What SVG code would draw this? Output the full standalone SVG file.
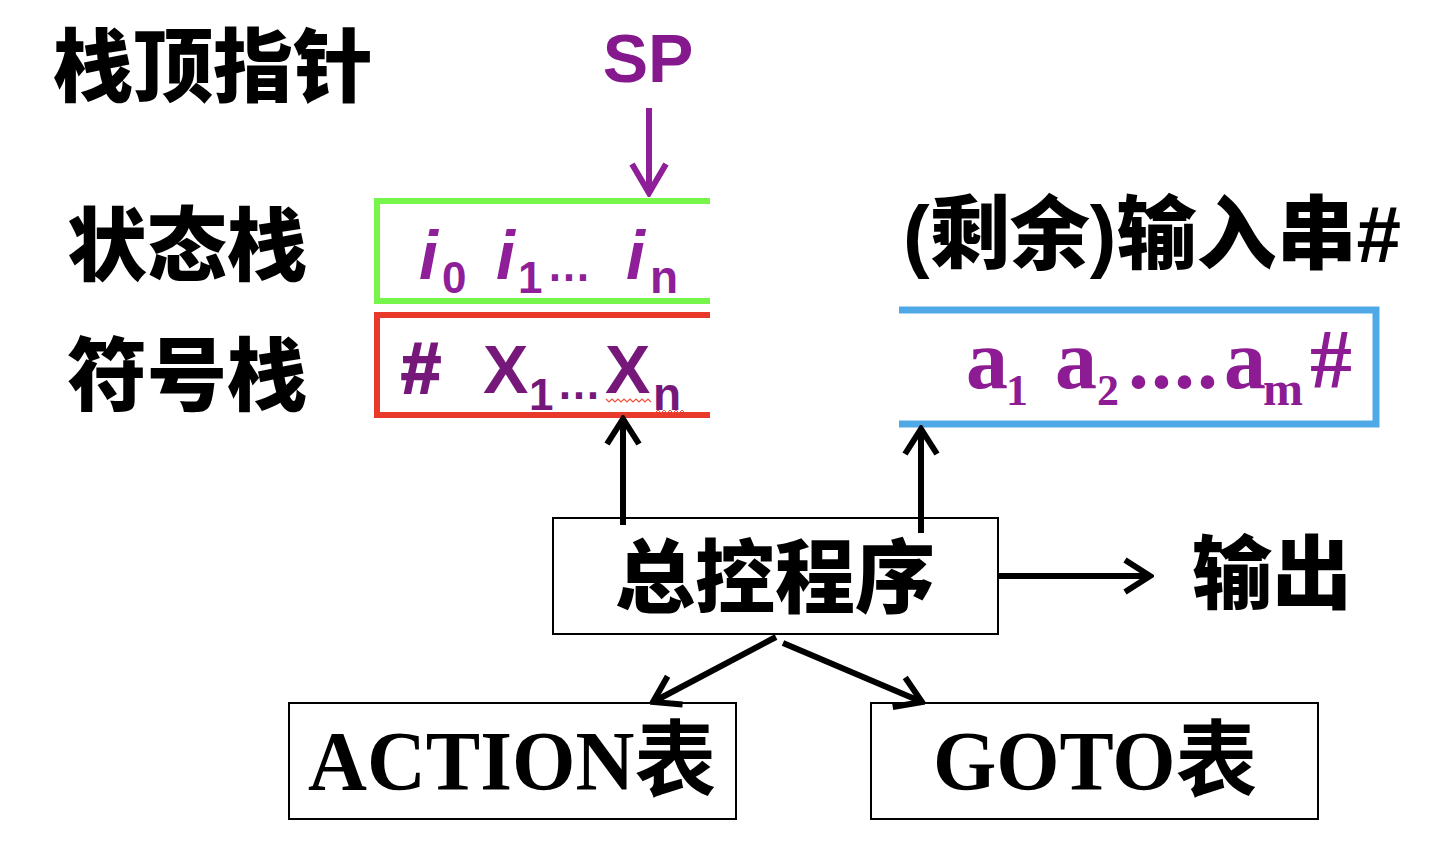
<svg xmlns="http://www.w3.org/2000/svg" width="1444" height="854" viewBox="0 0 1444 854">
<style>
.cjk{font-family:"Liberation Sans","Noto Sans CJK SC",sans-serif;font-weight:900;fill:#000;font-size:80px}
.sans{font-family:"Liberation Sans",Arial,sans-serif;font-weight:bold}
.serif{font-family:"Liberation Serif","Noto Sans CJK SC",serif;font-weight:bold}
.box{fill:#fff;stroke:#000;stroke-width:2}
.conn{stroke:#000;stroke-width:6;fill:none}
.pi{fill:#8E1F98}
.px{fill:#76187A}
.pa{fill:#8D1B93}
</style>
<defs>
<marker id="ah" markerUnits="userSpaceOnUse" viewBox="0 0 32 38" refX="28" refY="19" markerWidth="32" markerHeight="38" orient="auto">
<path d="M3,3 L28,19 L3,35" fill="none" stroke="#000" stroke-width="6" stroke-linejoin="miter"/>
</marker>
<marker id="ahp" markerUnits="userSpaceOnUse" viewBox="0 0 36 40" refX="32" refY="20" markerWidth="36" markerHeight="40" orient="auto">
<path d="M3,3 L32,20 L3,37" fill="none" stroke="#8E1F98" stroke-width="6" stroke-linejoin="miter"/>
</marker>
</defs>
<rect width="1444" height="854" fill="#fff"/>

<g id="labels">
<text class="cjk" x="213" y="95" text-anchor="middle">栈顶指针</text>
<text class="cjk" x="187" y="274" text-anchor="middle">状态栈</text>
<text class="cjk" x="187" y="404" text-anchor="middle">符号栈</text>
<text class="cjk" x="1152" y="262" text-anchor="middle">(剩余)输入串#</text>
<text class="sans" x="648" y="82" text-anchor="middle" font-size="68" fill="#84188C">SP</text>
</g>

<g id="state-stack">
<path d="M710,201 H377 V301 H710" fill="none" stroke="#77F54A" stroke-width="6"/>
<text class="sans pi"><tspan x="419" y="279" font-size="68" font-style="italic">i</tspan><tspan x="442" y="293" font-size="44">0</tspan><tspan x="496" y="279" font-size="68" font-style="italic">i</tspan><tspan x="518" y="293" font-size="44">1</tspan><tspan x="547" y="281" font-size="44">…</tspan><tspan x="626" y="279" font-size="68" font-style="italic">i</tspan><tspan x="650" y="293" font-size="46">n</tspan></text>
</g>

<g id="symbol-stack">
<path d="M710,315 H377 V415 H710" fill="none" stroke="#E8392A" stroke-width="6"/>
<text class="sans px"><tspan x="401" y="393" font-size="72" stroke="#76187A" stroke-width="2">#</tspan><tspan x="483" y="393" font-size="68">X</tspan><tspan x="529" y="410" font-size="44">1</tspan><tspan x="557" y="399" font-size="44">…</tspan><tspan x="605" y="393" font-size="68">X</tspan><tspan x="653" y="410" font-size="46">n</tspan></text>
<path d="M606,399 l3,3 l3,-3 l3,3 l3,-3 l3,3 l3,-3 l3,3 l3,-3 l3,3 l3,-3 l3,3 l3,-3 l3,3 l3,-3 l3,3" fill="none" stroke="#F0503C" stroke-width="1.2"/>
<path d="M655,413 l3,-3 l3,3 l3,-3 l3,3 l3,-3 l3,3 l3,-3 l3,3 l3,-3 l2,2" fill="none" stroke="#F0503C" stroke-width="1"/>
</g>

<g id="input-string">
<path d="M899,310 H1376 V424 H899" fill="none" stroke="#4FA9E6" stroke-width="7"/>
<text class="serif pa"><tspan x="966" y="388" font-size="84">a</tspan><tspan x="1006" y="405" font-size="44">1</tspan><tspan x="1055" y="388" font-size="84">a</tspan><tspan x="1097" y="405" font-size="44">2</tspan><tspan x="1128" y="388" font-size="84" letter-spacing="2">....</tspan><tspan x="1224" y="388" font-size="84">a</tspan><tspan x="1263" y="405" font-size="48">m</tspan><tspan x="1310" y="388" font-size="84">#</tspan></text>
</g>

<g id="control">
<rect class="box" x="553" y="518" width="445" height="116"/>
<text class="cjk" x="775" y="606" text-anchor="middle">总控程序</text>
</g>

<g id="output">
<text class="cjk" x="1272" y="602" text-anchor="middle">输出</text>
</g>

<g id="action">
<rect class="box" x="289" y="703" width="447" height="116"/>
<text class="serif" x="512" y="790" font-size="84" text-anchor="middle" textLength="408" lengthAdjust="spacingAndGlyphs">ACTION表</text>
</g>

<g id="goto">
<rect class="box" x="871" y="703" width="447" height="116"/>
<text class="serif" x="1095" y="790" font-size="84" text-anchor="middle" textLength="324" lengthAdjust="spacingAndGlyphs">GOTO表</text>
</g>

<g id="connectors">
<path d="M649,108 V193" stroke="#8E1F98" stroke-width="6" fill="none" marker-end="url(#ahp)"/>
<path class="conn" d="M623,525 V419" marker-end="url(#ah)"/>
<path class="conn" d="M921,533 V429" marker-end="url(#ah)"/>
<path class="conn" d="M998,576 H1150" marker-end="url(#ah)"/>
<path class="conn" d="M776,637 L653,702" marker-end="url(#ah)"/>
<path class="conn" d="M783,643 L922,702" marker-end="url(#ah)"/>
</g>
</svg>
